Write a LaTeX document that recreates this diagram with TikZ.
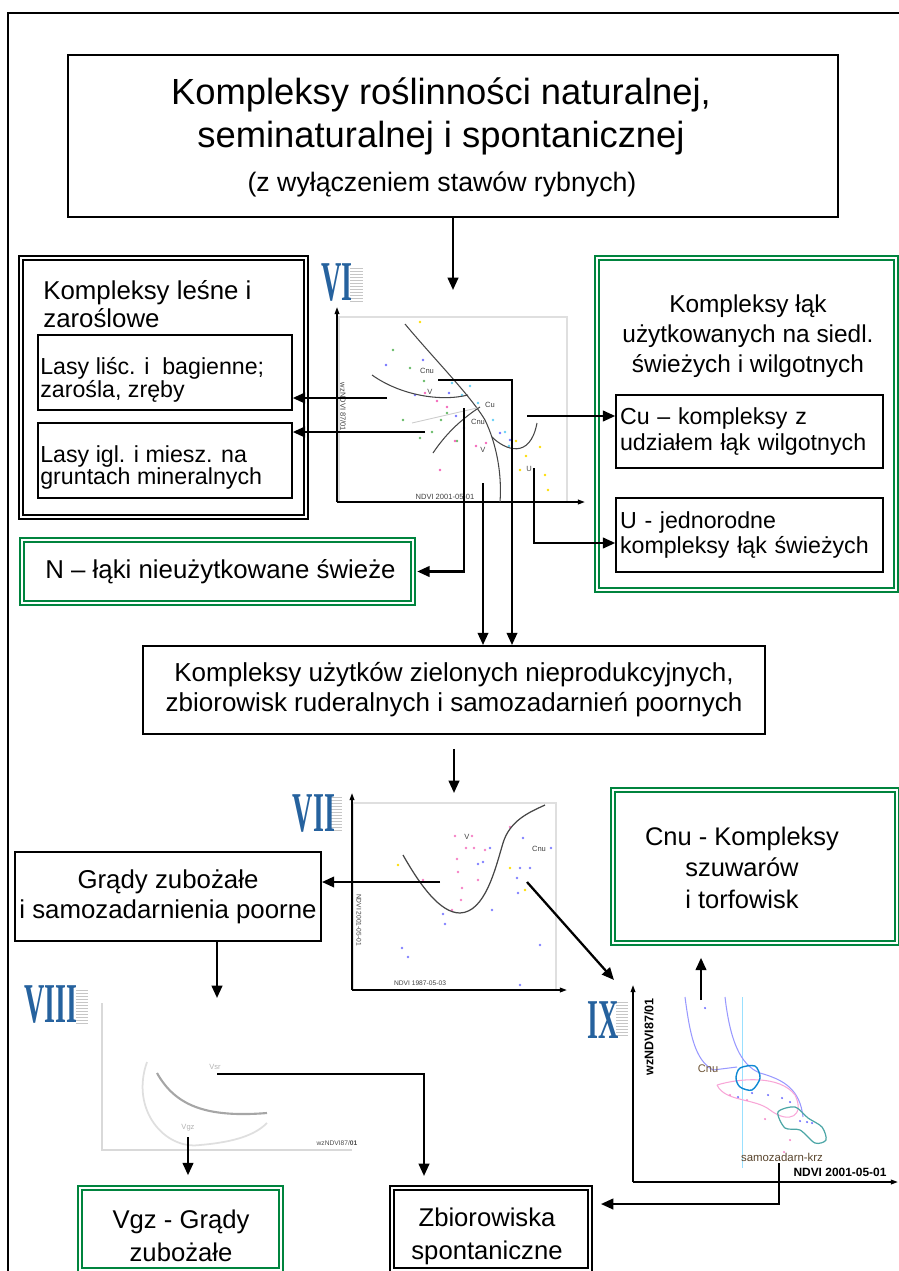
\documentclass[tikz,border=0pt]{standalone}
\usepackage{graphicx}
\usepackage{fontspec}
\setmainfont{Liberation Sans}
\newfontfamily\romanfont{Liberation Serif}
\usetikzlibrary{arrows.meta,positioning}

\definecolor{kgreen}{RGB}{0,132,62}
\definecolor{kblue}{RGB}{38,98,158}
\definecolor{kbrown}{RGB}{110,85,55}
\newcommand{\fs}[2]{\fontsize{#1}{#2}\selectfont}

\tikzset{
    box/.style={draw, line width=1.1pt, inner sep=2pt},
    thinbox/.style={draw, line width=0.9pt, inner xsep=2pt, inner ysep=1pt},
    greenbox/.style={draw=kgreen, double, double distance=1.4pt, line width=0.9pt},
    dblbox/.style={draw, double, double distance=1.3pt, line width=1.1pt},
    arr/.style={line width=1.3pt, -{Triangle[length=7pt,width=6pt]}},
    axis/.style={line width=0.9pt, -{Triangle[length=4pt,width=2.6pt]}},
    curve/.style={gray!55!black, line width=0.6pt},
    tiny/.style={font=\fs{4.3}{5}, text=gray!50!black, inner sep=0pt},
    numeral/.style={font=\romanfont\bfseries\fs{32}{32}, text=kblue, inner sep=0pt},
    stripe/.style={gray!45, line width=0.25pt}
}

\begin{document}
\begin{tikzpicture}[x=0.02cm, y=-0.02cm]
    \useasboundingbox (0,0) rectangle (899,1271);
    \draw[line width=1.1pt] (8,1271) -- (8,13) -- (899,13);

    \node[box, minimum width=15.4cm, minimum height=3.24cm] (title) at (453,136) {};
    \node[inner sep=0pt, align=center, font=\fs{20.7}{24.4}] (titletxt) at (441,116) {Kompleksy roślinności naturalnej,\\seminaturalnej i spontanicznej};
    \node[inner sep=0pt, font=\fs{15.2}{17}] (titlesub) at (442,184) {(z wyłączeniem stawów rybnych)};

    \node[dblbox, minimum width=5.7cm, minimum height=5.18cm] (lesne) at (163.5,387.5) {};
    \node[anchor=west, inner sep=0pt, font=\fs{14.7}{15.5}, align=left] (lesnetxt) at (43,304) {Kompleksy leśne i\\zaroślowe};
    \node[thinbox, minimum width=5.08cm, minimum height=1.5cm] (lasylisc) at (165,372.5) {};
    \node[anchor=west, inner sep=0pt, font=\fs{13.2}{12.8}, align=left] (lasylisctxt) at (40,380) {Lasy liśc. i\ \ bagienne;\\zarośla, zręby};
    \node[thinbox, minimum width=5.08cm, minimum height=1.5cm] (lasyigl) at (165,460.5) {};
    \node[anchor=west, inner sep=0pt, font=\fs{13.2}{12.8}, align=left] (lasyigltxt) at (40,467.5) {Lasy igl. i miesz. na\\gruntach mineralnych};

    \node[greenbox, minimum width=5.98cm, minimum height=6.64cm] (laki) at (746.5,424) {};
    \node[inner sep=0pt, font=\fs{13.9}{17}, align=center] (lakitxt) at (748,336) {Kompleksy łąk\\użytkowanych na siedl.\\świeżych i wilgotnych};
    \node[thinbox, minimum width=5.34cm, minimum height=1.46cm, text width=5.18cm, align=left, font=\fs{13.2}{14.7}] (cu) at (749.5,431.5) {Cu – kompleksy z\\udziałem łąk wilgotnych};
    \node[thinbox, minimum width=5.34cm, minimum height=1.48cm, text width=5.18cm, align=left, font=\fs{13.2}{14.7}] (u) at (749.5,535) {U - jednorodne\\kompleksy łąk świeżych};

    \node[greenbox, minimum width=7.82cm, minimum height=1.26cm] (nlaki) at (217.5,571.5) {};
    \node[anchor=west, inner sep=0pt, font=\fs{14.7}{17}] (nlakitxt) at (45,572) {N – łąki nieużytkowane świeże};

    \node[box, minimum width=12.44cm, minimum height=1.76cm, align=center, font=\fs{14.8}{17}] (uzytki) at (454,690)
        {Kompleksy użytków zielonych nieprodukcyjnych,\\zbiorowisk ruderalnych i samozadarnień poornych};

    \node[box, minimum width=6.12cm, minimum height=1.78cm, align=center, font=\fs{14.7}{17}] (grady) at (168,896.5) {Grądy zubożałe\\i samozadarnienia poorne};

    \node[greenbox, minimum width=5.68cm, minimum height=3.06cm] (cnu) at (755,866.5) {};
    \node[inner sep=0pt, align=center, font=\fs{14.5}{17.9}] (cnutxt) at (742,867.5) {Cnu - Kompleksy\\szuwarów\\i torfowisk};

    \node[greenbox, minimum width=4.02cm, minimum height=1.64cm] (vgz) at (180.5,1229) {};
    \node[inner sep=0pt, align=center, font=\fs{14.6}{18.7}] (vgztxt) at (181,1236) {Vgz - Grądy\\zubożałe};
    \node[dblbox, minimum width=3.96cm, minimum height=1.64cm] (zbior) at (491,1229) {};
    \node[inner sep=0pt, align=center, font=\fs{14.6}{18.7}] (zbiortxt) at (487,1236) {Zbiorowiska\\spontaniczne};

    % roman numerals
    \foreach \k in {0,...,11} {
        \draw[stripe] (350,268+3*\k) -- (363,268+3*\k);
        \draw[stripe] (330,797+3*\k) -- (342,797+3*\k);
        \draw[stripe] (76,990+3*\k) -- (88,990+3*\k);
        \draw[stripe] (616,1002+3*\k) -- (628,1002+3*\k);
    }
    \node[numeral] (vilab) at (337,283) {\scalebox{0.5}[1]{VI}};
    \node[numeral] (viilab) at (314,814) {\scalebox{0.5}[1]{VII}};
    \node[numeral] (viiilab) at (51,1005) {\scalebox{0.5}[1]{VIII}};
    \node[numeral] (ixlab) at (603,1020) {\scalebox{0.5}[1]{IX}};

    % plot VI
    \draw[gray!25, line width=0.8pt] (339,502) |- (567,317) -- (567,502);
    \draw[axis] (337,502) -- (337,307);
    \draw[axis] (337,502) -- (585,502);
    \foreach \x/\y in {393/350,410/368,424/381,447/413,441/420,432/432,457/441,403/420,420/438}
        \fill[green!55!black!60] (\x,\y) circle (0.8pt);
    \foreach \x/\y in {423/360,386/365,449/393,456/416,464/428,500/433,510/440,415/395}
        \fill[blue!55] (\x,\y) circle (0.8pt);
    \foreach \x/\y in {425/393,437/401,447/407,476/446,486/443,455/441,440/470}
        \fill[magenta!60] (\x,\y) circle (0.8pt);
    \foreach \x/\y in {452/383,470/386,462/395,493/420,505/432,509/446,478/403}
        \fill[cyan!60] (\x,\y) circle (0.8pt);
    \foreach \x/\y in {420/322,516/441,526/456,540/447,545/475,548/490,520/470}
        \fill[yellow!80!orange] (\x,\y) circle (0.8pt);
    \draw[curve] (405,324) .. controls (435,360) and (470,395) .. (485,420) .. controls (497,445) and (502,475) .. (500,502);
    \draw[curve] (372,375) .. controls (400,395) and (440,402) .. (468,395);
    \draw[curve] (433,453) .. controls (445,435) and (460,420) .. (480,407);
    \draw[curve] (492,437) .. controls (505,450) and (530,460) .. (537,423);
    \draw[gray!40, line width=0.5pt] (412,423) -- (477,408);
    \node[tiny] (vicnu) at (427,371) {Cnu};
    \node[tiny] (viv) at (430,392) {V};
    \node[tiny] (vicu) at (490,405) {Cu};
    \node[tiny] (vicnw) at (478,422) {Cnu};
    \node[tiny] (viv2) at (483,450) {V};
    \node[tiny] (viu) at (529,469) {U};
    \node[tiny] (vix) at (445,497) {NDVI 2001-05-01};
    \node[tiny, rotate=-90] (viy) at (343,407) {wzNDVI 87/01};

    % plot VII
    \draw[gray!25, line width=0.8pt] (353,990) |- (556,803) -- (556,990);
    \draw[axis] (352,990) -- (352,793);
    \draw[axis] (352,990) -- (567,990);
    \foreach \x/\y in {455/836,472/836,466/848,474/848,457/859,485/850,458/872,478/880,462/888,461/900,510/827,452/910,423/880}
        \fill[magenta!50] (\x,\y) circle (0.8pt);
    \foreach \x/\y in {490/848,483/862,478/864,520/868,530/868,517/878,518/893,492/910,443/914,445/924,402/948,408/957,540/945,523/838,551/848,520/985}
        \fill[blue!50] (\x,\y) circle (0.8pt);
    \foreach \x/\y in {398/865,510/868,525/890}
        \fill[yellow!80!orange] (\x,\y) circle (0.8pt);
    \draw[curve, line width=0.7pt] (403,855) .. controls (420,885) and (440,913) .. (460,913) .. controls (485,912) and (495,870) .. (503,843) .. controls (510,820) and (530,812) .. (545,805);
    \node[tiny] (viiv) at (467,837) {V};
    \node[tiny] (viicnu) at (539,849) {Cnu};
    \node[tiny, font=\fs{3.8}{4}] (viix) at (420,983) {NDVI 1987-05-03};
    \node[tiny, font=\fs{3.8}{4}, rotate=-90] (viiy) at (359,920) {NDVI 2001-05-01};

    % plot VIII
    \draw[gray!30, line width=0.8pt] (102,1003) -- (102,1150) -- (352,1150);
    \draw[gray!25, line width=1pt] (147,1062) .. controls (130,1110) and (165,1150) .. (200,1145) .. controls (235,1142) and (255,1135) .. (267,1123);
    \draw[gray!70, line width=1.2pt] (157,1073) .. controls (175,1105) and (205,1118) .. (267,1113);
    \node[tiny, text=gray!60] (viiivsr) at (215,1067) {Vsr};
    \node[tiny, text=gray!60] (viiivgz) at (188,1128) {Vgz};
    \node[tiny, font=\fs{3.8}{4}, text=gray!60!black] (viiix) at (337,1143) {wzNDVI87/\textbf{01}};

    % plot IX
    \draw[axis] (633,1182) -- (633,985);
    \draw[axis] (633,1182) -- (898,1182);
    \draw[blue!30!cyan!40, line width=0.5pt] (742,997) -- (742,1168);
    \draw[blue!40, line width=0.6pt] (685,997) .. controls (690,1035) and (695,1060) .. (713,1070) -- (737,1067);
    \draw[blue!40, line width=0.6pt] (725,997) .. controls (730,1040) and (740,1065) .. (760,1073) .. controls (785,1080) and (800,1090) .. (803,1117);
    \draw[magenta!35, line width=0.6pt] (717,1085) .. controls (740,1078) and (780,1075) .. (795,1095) .. controls (805,1115) and (790,1125) .. (770,1110) .. controls (755,1098) and (725,1102) .. (717,1085);
    \draw[cyan!70!blue, line width=0.8pt] plot[smooth cycle] coordinates {(740,1068) (755,1066) (760,1078) (752,1090) (740,1087) (736,1078)};
    \draw[teal!70, line width=0.7pt] plot[smooth cycle] coordinates {(778,1112) (795,1107) (808,1118) (822,1127) (826,1140) (815,1143) (800,1130) (785,1128)};
    \foreach \x/\y in {705/1008,738/1097,752/1093,768/1095,782/1098,790/1102,800/1121,807/1122,812/1123}
        \fill[blue!55] (\x,\y) circle (0.7pt);
    \foreach \x/\y in {765/1119,790/1140,784/1152,730/1095,747/1100}
        \fill[magenta!45] (\x,\y) circle (0.7pt);
    \node[inner sep=0pt, font=\fs{6.3}{7}, text=kbrown] (ixcnu) at (708,1069) {Cnu};
    \node[inner sep=0pt, font=\fs{6.5}{7}, text=kbrown!80!black] (ixsam) at (782,1157) {samozadarn-krz};
    \node[inner sep=0pt, font=\bfseries\fs{6.8}{7}] (ixx) at (840,1172) {NDVI 2001-05-01};
    \node[inner sep=0pt, font=\bfseries\fs{7.1}{7}, rotate=90] (ixy) at (649,1037) {wzNDVI87/01};

    % connectors
    \coordinate (vitop) at (453,290);
    \coordinate (viA) at (387,398);
    \coordinate (viB) at (425,432);
    \coordinate (viC) at (438,380);
    \coordinate (viCx) at (512,600);
    \coordinate (viD) at (464,408);
    \coordinate (viE) at (483,483);
    \coordinate (viF) at (527,416);
    \coordinate (viG) at (534,468);
    \coordinate (viitop) at (454,793);
    \coordinate (viiA) at (440,882);
    \coordinate (viiB) at (527,882);
    \coordinate (ixtip) at (614,980);
    \coordinate (viiitop) at (217,998);
    \coordinate (viiiA) at (217,1074);
    \coordinate (viiiB) at (188,1137);
    \coordinate (zbin) at (424,1176);
    \coordinate (ixA) at (701,1000);
    \coordinate (ixB) at (779,1163);

    \draw[arr] (title.south -| vitop) -- (vitop);
    \draw[arr] (viA) -- (viA -| lasylisc.east);
    \draw[arr] (viB) -- (viB -| lasyigl.east);
    \draw[arr] (viC) -| (uzytki.north -| viCx);
    \draw[arr, shorten >=2pt] (viD) |- (nlaki.east);
    \draw[arr] (viE) -- (viE |- uzytki.north);
    \draw[arr] (viF) -- (viF -| cu.west);
    \draw[arr] (viG) |- ([yshift=-0.16cm]u.west);
    \draw[arr, shorten <=0.28cm] (uzytki.south -| viitop) -- (viitop);
    \draw[arr] (viiA) -- (viiA -| grady.east);
    \draw[arr] (viiB) -- (ixtip);
    \draw[arr] (grady.south -| viiitop) -- (viiitop);
    \draw[arr] (viiiA) -| (zbin);
    \draw[arr, shorten >=0.24cm] (viiiB) -- (viiiB |- vgz.north);
    \draw[arr, shorten >=0.28cm] (ixA) -- (ixA |- cnu.south);
    \draw[arr, shorten >=0.2cm] (ixB) |- ([yshift=0.5cm]zbior.east);
\end{tikzpicture}
\end{document}
